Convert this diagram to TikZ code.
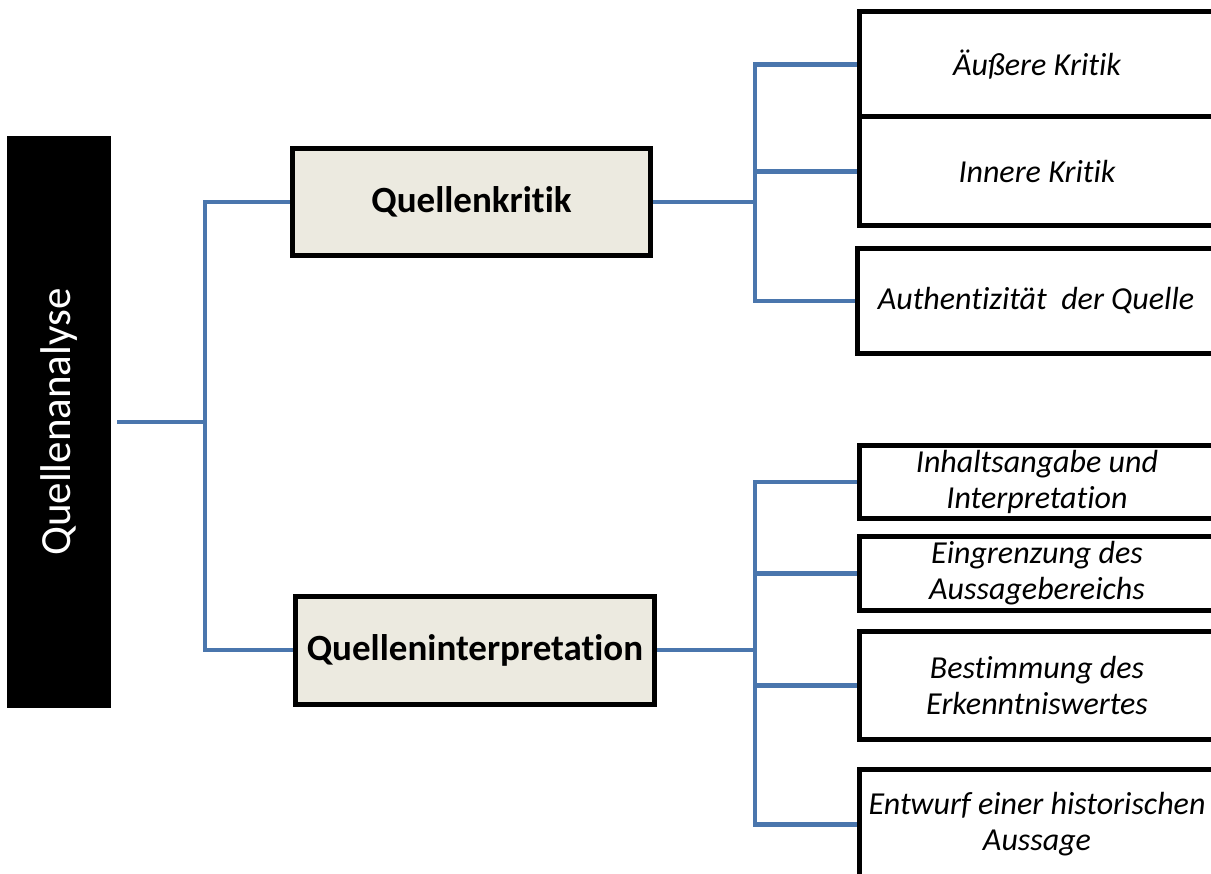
\documentclass[tikz,border=0pt]{standalone}
\usepackage{fontspec}
\setmainfont{Carlito}[Ligatures=NoCommon]
\begin{document}
\begin{tikzpicture}[x=1pt,y=-1pt,
  conn/.style={draw=blueconn,line width=4.5pt},
  midbox/.style={draw=black,line width=5pt,fill=beige,inner sep=0pt,align=center,
     font=\fontsize{37}{44}\selectfont\bfseries},
  leafbox/.style={draw=black,line width=5pt,fill=white,inner sep=0pt,align=center,
     font=\fontsize{32}{36}\selectfont\itshape},
  rootbox/.style={fill=black,inner sep=0pt}]
\definecolor{blueconn}{HTML}{4A76AD}
\definecolor{beige}{HTML}{ECEAE0}
\useasboundingbox (0,0) rectangle (1211,874);
\fill[white] (0,0) rectangle (1211,874);
% root
\node[rootbox,minimum width=104pt,minimum height=572pt] (QA) at (59,422) {};
\node[rotate=90,text=white,font=\fontsize{43}{50}\selectfont] (QAt) at (QA.center) {Quellenanalyse};
% middle
\node[midbox,minimum width=358pt,minimum height=107pt] (QK) at (471.5,202) {Quellenkritik};
\node[midbox,minimum width=359pt,minimum height=108pt] (QI) at (475,650) {Quelleninterpretation};
% leaves top
\node[leafbox,minimum width=355pt,minimum height=105pt] (A1) at (1037,64.5) {Äußere Kritik};
\node[leafbox,minimum width=355pt,minimum height=109pt] (A2) at (1037,171.5) {Innere Kritik};
\node[leafbox,minimum width=357pt,minimum height=105pt] (A3) at (1036,301) {Authentizität\ \ der Quelle};
% leaves bottom
\node[leafbox,minimum width=355pt,minimum height=73pt] (B1) at (1037,482) {Inhaltsangabe und\\Interpretation};
\node[leafbox,minimum width=355pt,minimum height=74pt] (B2) at (1037,573.5) {Eingrenzung des\\Aussagebereichs};
\node[leafbox,minimum width=355pt,minimum height=108pt] (B3) at (1037,685.5) {Bestimmung des\\Erkenntniswertes};
\node[leafbox,minimum width=355pt,minimum height=111pt] (B4) at (1037,824.5) {Entwurf einer historischen\\Aussage};
% connectors
\coordinate (j1) at (205,422);
\coordinate (j2) at (755,202);
\coordinate (j3) at (755,650);
\draw[conn] ([xshift=6pt]QA.east) -- (j1);
\draw[conn] (j1) |- (QK.west);
\draw[conn] (j1) |- (QI.west);
\draw[conn] (QK.east) -- (j2);
\draw[conn] (j2) |- (A1.west);
\draw[conn] (j2) |- (A2.west);
\draw[conn] (j2) |- (A3.west);
\draw[conn] (QI.east) -- (j3);
\draw[conn] (j3) |- (B1.west);
\draw[conn] (j3) |- (B2.west);
\draw[conn] (j3) |- (B3.west);
\draw[conn] (j3) |- (B4.west);
\end{tikzpicture}
\end{document}
